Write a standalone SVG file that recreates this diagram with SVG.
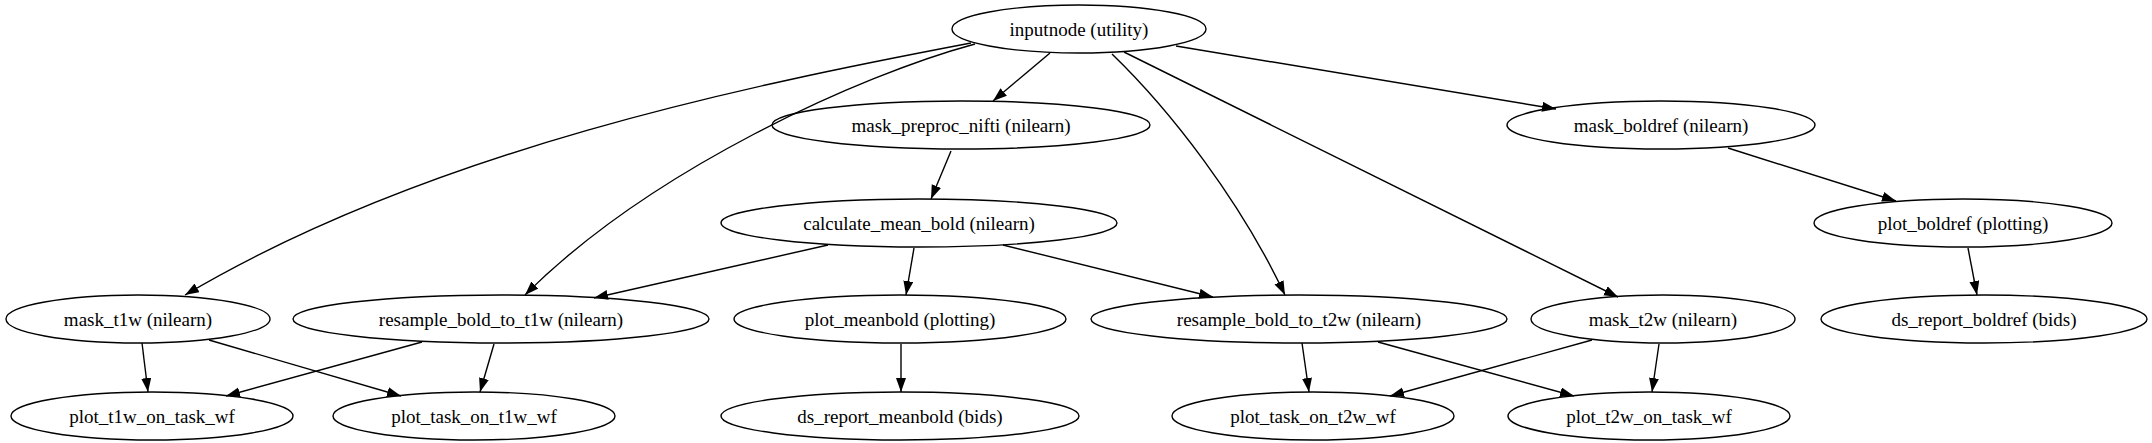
<svg xmlns="http://www.w3.org/2000/svg" width="2152" height="443" viewBox="0 0 2152 443">
<style>
.n ellipse{fill:none;stroke:#000;stroke-width:1.4}
.n text{font-family:"Liberation Serif",serif;font-size:19px;text-anchor:middle;dominant-baseline:central}
#edges path{fill:none;stroke:#000;stroke-width:1.4;marker-end:url(#a)}
</style>
<defs><marker id="a" markerUnits="userSpaceOnUse" markerWidth="16" markerHeight="12" refX="14" refY="5" orient="auto"><path d="M0,0L14,5L0,10Z" fill="#000"/></marker></defs>
<rect width="2152" height="443" fill="#fff"/>
<g id="edges">
<path d="M971,43C750,85 430,150 185,295"/>
<path d="M975,44C860,75 650,170 525,295"/>
<path d="M1050,53L993,101"/>
<path d="M951,151L931,199"/>
<path d="M828,245L594,298"/>
<path d="M914,248L906,295"/>
<path d="M1003,245L1213,297"/>
<path d="M142,343L148,392"/>
<path d="M209,340L401,396"/>
<path d="M422,342L226,396"/>
<path d="M494,344L480,392"/>
<path d="M901,344L901,392"/>
<path d="M1112,54C1170,110 1240,200 1285,295"/>
<path d="M1124,52L1618,297"/>
<path d="M1176,46L1556,109"/>
<path d="M1728,148L1896,201"/>
<path d="M1968,248L1977,295"/>
<path d="M1302,343L1309,392"/>
<path d="M1378,342L1574,396"/>
<path d="M1592,340L1390,396"/>
<path d="M1659,344L1652,392"/>
</g>
<g id="inputnode" class="n"><ellipse cx="1079" cy="29" rx="127" ry="24"/><text x="1079" y="29">inputnode (utility)</text></g>
<g id="mask_preproc_nifti" class="n"><ellipse cx="961" cy="125" rx="189" ry="24"/><text x="961" y="125">mask_preproc_nifti (nilearn)</text></g>
<g id="calculate_mean_bold" class="n"><ellipse cx="919" cy="223" rx="198" ry="24"/><text x="919" y="223">calculate_mean_bold (nilearn)</text></g>
<g id="mask_boldref" class="n"><ellipse cx="1661" cy="125" rx="154" ry="24"/><text x="1661" y="125">mask_boldref (nilearn)</text></g>
<g id="plot_boldref" class="n"><ellipse cx="1963" cy="223" rx="149" ry="24"/><text x="1963" y="223">plot_boldref (plotting)</text></g>
<g id="mask_t1w" class="n"><ellipse cx="138" cy="319" rx="132" ry="24"/><text x="138" y="319">mask_t1w (nilearn)</text></g>
<g id="resample_bold_to_t1w" class="n"><ellipse cx="501" cy="319" rx="208" ry="24"/><text x="501" y="319">resample_bold_to_t1w (nilearn)</text></g>
<g id="plot_meanbold" class="n"><ellipse cx="900" cy="319" rx="166" ry="24"/><text x="900" y="319">plot_meanbold (plotting)</text></g>
<g id="resample_bold_to_t2w" class="n"><ellipse cx="1299" cy="319" rx="208" ry="24"/><text x="1299" y="319">resample_bold_to_t2w (nilearn)</text></g>
<g id="mask_t2w" class="n"><ellipse cx="1663" cy="319" rx="132" ry="24"/><text x="1663" y="319">mask_t2w (nilearn)</text></g>
<g id="ds_report_boldref" class="n"><ellipse cx="1984" cy="319" rx="163" ry="24"/><text x="1984" y="319">ds_report_boldref (bids)</text></g>
<g id="plot_t1w_on_task_wf" class="n"><ellipse cx="152" cy="416" rx="141" ry="24"/><text x="152" y="416">plot_t1w_on_task_wf</text></g>
<g id="plot_task_on_t1w_wf" class="n"><ellipse cx="474" cy="416" rx="141" ry="24"/><text x="474" y="416">plot_task_on_t1w_wf</text></g>
<g id="ds_report_meanbold" class="n"><ellipse cx="900" cy="416" rx="179" ry="24"/><text x="900" y="416">ds_report_meanbold (bids)</text></g>
<g id="plot_task_on_t2w_wf" class="n"><ellipse cx="1313" cy="416" rx="141" ry="24"/><text x="1313" y="416">plot_task_on_t2w_wf</text></g>
<g id="plot_t2w_on_task_wf" class="n"><ellipse cx="1649" cy="416" rx="141" ry="24"/><text x="1649" y="416">plot_t2w_on_task_wf</text></g>
</svg>
